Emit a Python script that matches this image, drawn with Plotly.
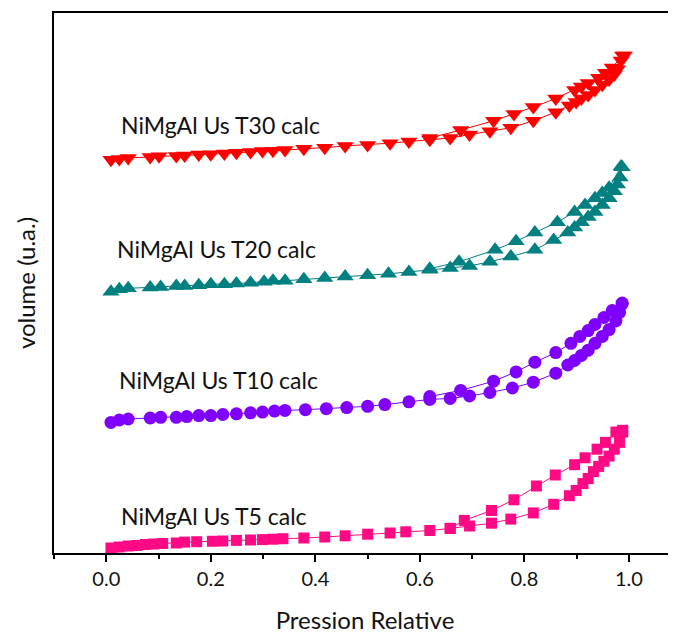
import plotly.graph_objects as go

# ---------------- data (P/P0, volume in arbitrary units, offset per sample) ----------------
t5_ads_x = [0.009, 0.025, 0.042, 0.058, 0.075, 0.091, 0.108, 0.134, 0.150, 0.173, 0.203, 0.223,
            0.249, 0.276, 0.299, 0.319, 0.338, 0.378, 0.418, 0.457, 0.500, 0.543, 0.573, 0.619,
            0.658, 0.695, 0.737, 0.774, 0.817, 0.856, 0.886, 0.899, 0.912, 0.922, 0.932, 0.942,
            0.952, 0.962, 0.972, 0.982, 0.988]
t5_ads_y = [5, 6, 7, 7.5, 8.5, 9, 9.5, 10, 10.9, 11.3, 11.7, 12, 12.6, 13, 13.4, 13.8, 14.3, 15,
            16, 17.2, 18.8, 20, 21.2, 22.5, 24.6, 27, 29.8, 33.9, 40.1, 48.7, 57.3, 62.5, 69.4,
            74.5, 81.4, 86.6, 91.7, 96.9, 103.8, 110.6, 121]
t5_des_x = [0.988, 0.975, 0.955, 0.939, 0.916, 0.896, 0.859, 0.823, 0.780, 0.737, 0.685, 0.658]
t5_des_y = [122.7, 121, 110.6, 103.8, 95.2, 88.3, 78, 67, 53.2, 42.5, 32.6, 24.6]

t10_ads_x = [0.009, 0.025, 0.042, 0.084, 0.104, 0.134, 0.154, 0.177, 0.200, 0.223, 0.249, 0.276,
             0.299, 0.322, 0.342, 0.381, 0.421, 0.460, 0.500, 0.533, 0.579, 0.619, 0.658, 0.695,
             0.734, 0.777, 0.817, 0.860, 0.883, 0.896, 0.909, 0.922, 0.935, 0.949, 0.962, 0.975,
             0.982, 0.987]
t10_ads_y = [130.6, 133, 134, 135, 135.7, 135.7, 136.4, 137.4, 137.4, 138.5, 139.2, 140.2, 140.9,
             141.9, 142.6, 143.3, 144.3, 145.4, 146.7, 148.4, 151.2, 153.6, 154.6, 157, 160.5,
             165, 170.8, 179.8, 188, 192.5, 197.6, 202.8, 209.7, 216.6, 223.4, 232, 240.6, 249.2]
t10_des_x = [0.987, 0.968, 0.952, 0.935, 0.922, 0.906, 0.889, 0.860, 0.820, 0.784, 0.741, 0.678, 0.619]
t10_des_y = [249.9, 242.4, 235.5, 228.6, 222.4, 216.6, 209.7, 200.4, 190.8, 181.1, 171.8, 162.6, 156.4]

t20_ads_x = [0.009, 0.025, 0.042, 0.084, 0.104, 0.134, 0.150, 0.177, 0.200, 0.226, 0.249, 0.276,
             0.302, 0.319, 0.342, 0.378, 0.418, 0.457, 0.500, 0.540, 0.579, 0.619, 0.658, 0.695,
             0.734, 0.774, 0.820, 0.856, 0.883, 0.896, 0.909, 0.922, 0.935, 0.949, 0.962, 0.972,
             0.978, 0.983, 0.987]
t20_ads_y = [261.3, 263.7, 264.7, 265.4, 266.1, 267.1, 267.1, 267.8, 268.8, 268.8, 269.5, 270.2,
             271.2, 272.3, 272.3, 273.7, 275, 276.4, 277.8, 279.2, 280.9, 283.3, 285, 287.1,
             291.2, 296.4, 303.2, 312.9, 320.4, 325.6, 330.8, 335.9, 341.1, 348, 354.8, 361.7,
             368.6, 375.5, 385.8]
t20_des_x = [0.985, 0.962, 0.949, 0.935, 0.916, 0.896, 0.863, 0.820, 0.784, 0.744, 0.675, 0.619]
t20_des_y = [386.5, 365.2, 360, 354.8, 348, 341.1, 330.8, 320.4, 311.8, 303.2, 291.2, 284.3]

t30_ads_x = [0.009, 0.025, 0.042, 0.084, 0.101, 0.134, 0.150, 0.177, 0.200, 0.226, 0.249, 0.276,
             0.299, 0.319, 0.342, 0.378, 0.418, 0.457, 0.500, 0.543, 0.579, 0.619, 0.658, 0.695,
             0.734, 0.774, 0.817, 0.860, 0.886, 0.899, 0.909, 0.922, 0.935, 0.949, 0.962, 0.972,
             0.978, 0.985, 0.991]
t30_ads_y = [393.3, 394, 395, 396, 396.7, 397.1, 397.4, 398.4, 398.8, 399.5, 400.2, 400.9, 401.9,
             402.2, 402.9, 404.3, 405.3, 407.1, 408.1, 409.8, 411.5, 413.2, 415, 418.4, 421.8,
             425.3, 432.2, 440.8, 447.6, 451.1, 454.5, 458, 463.1, 468.3, 473.4, 478.6, 483.8,
             492.4, 497.5]
t30_des_x = [0.988, 0.968, 0.955, 0.942, 0.922, 0.909, 0.896, 0.860, 0.817, 0.780, 0.741, 0.678, 0.619]
t30_des_y = [497.5, 485.5, 480.3, 475.2, 470, 466.6, 463.1, 454.5, 445.9, 439, 432.2, 422.9, 415]

labels = ["NiMgAl Us T5 calc", "NiMgAl Us T10 calc", "NiMgAl Us T20 calc", "NiMgAl Us T30 calc"]
label_x = [0.024, 0.020, 0.016, 0.024]
label_y = [37, 173, 304, 428]

x_tickvals = [0.0, 0.2, 0.4, 0.6, 0.8, 1.0]
x_ticktext = ["0.0", "0.2", "0.4", "0.6", "0.8", "1.0"]

# ---------------- figure ----------------
series = [
    (t5_ads_x, t5_ads_y, t5_des_x, t5_des_y, "#FF0A84", "square", 11),
    (t10_ads_x, t10_ads_y, t10_des_x, t10_des_y, "#8000FF", "circle", 13),
    (t20_ads_x, t20_ads_y, t20_des_x, t20_des_y, "#008080", "triangle-up", 15),
    (t30_ads_x, t30_ads_y, t30_des_x, t30_des_y, "#FF0000", "triangle-down", 15),
]

fig = go.Figure()
for ax, ay, dx, dy, col, sym, sz in series:
    for xs, ys in ((ax, ay), (dx, dy)):
        fig.add_trace(go.Scatter(
            x=xs, y=ys, mode="lines+markers",
            line=dict(color=col, width=1),
            marker=dict(symbol=sym, size=sz, color=col, line=dict(width=0)),
            showlegend=False, hoverinfo="skip",
        ))

font_family = "Lato, 'Open Sans', sans-serif"
for txt, lx, ly in zip(labels, label_x, label_y):
    fig.add_annotation(x=lx, y=ly, text=txt, showarrow=False, xanchor="left", yanchor="middle",
                       font=dict(family=font_family, size=23, color="#111111"))

# page body adds an 8px margin, so the figure is sized to fit the 676x634 window
fig.update_layout(
    width=668, height=626,
    margin=dict(l=46, r=0, t=5, b=81),
    paper_bgcolor="white", plot_bgcolor="white",
    font=dict(family=font_family, color="#111111"),
    xaxis=dict(
        range=[-0.1, 1.09], showgrid=False, zeroline=False, automargin=False,
        showline=True, linecolor="black", linewidth=1.5, mirror=True,
        tickmode="array", tickvals=x_tickvals, ticktext=x_ticktext,
        ticks="outside", ticklen=7, tickwidth=1.5, tickcolor="black",
        minor=dict(dtick=0.1, tick0=-0.1, ticks="outside", ticklen=4, tickwidth=1.5, tickcolor="black"),
        tickfont=dict(size=20, family=font_family, color="#111111"),
        title=dict(text="Pression Relative", font=dict(size=24, family=font_family, color="#111111"), standoff=28),
    ),
    yaxis=dict(
        range=[0, 540], showgrid=False, zeroline=False, automargin=False,
        showline=True, linecolor="black", linewidth=1.5, mirror=False,
        showticklabels=False, ticks="",
        title=dict(text="volume (u.a.)", font=dict(size=24, family=font_family, color="#111111"), standoff=10),
    ),
)

fig.write_html("out.html")
